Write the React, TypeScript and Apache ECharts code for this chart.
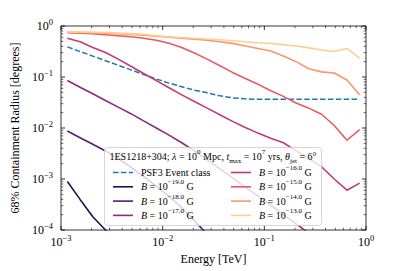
import React, { useEffect, useRef } from 'react';
import * as echarts from 'echarts';

const FONT = '"Liberation Serif", "Times New Roman", serif';

// Energy bin centres [TeV]
const energies = [
  0.001155, 0.00154, 0.002054, 0.002738, 0.003652, 0.00487, 0.006494, 0.00866,
  0.01155, 0.0154, 0.02054, 0.02738, 0.03652, 0.0487, 0.06494, 0.0866,
  0.1155, 0.154, 0.2054, 0.2738, 0.3652, 0.487, 0.6494, 0.866,
];

// 68% containment radius [deg]
const psf3 = [
  0.389, 0.316, 0.257, 0.209, 0.17, 0.138, 0.112, 0.0912,
  0.0759, 0.0646, 0.055, 0.049, 0.0427, 0.039, 0.0373, 0.0366,
  0.0365, 0.0365, 0.0365, 0.0365, 0.0365, 0.0365, 0.0365, 0.0365,
];
const b19 = [0.000891, 0.000398, 0.000182, 0.0001, 0.0000501];
const b18 = [
  0.00871, 0.00646, 0.00479, 0.00355, 0.00251, 0.0017, 0.00112, 0.000724,
  0.000457, 0.000275, 0.000151, 0.0000832, 0.0000447,
];
const b17 = [
  0.0851, 0.0631, 0.0468, 0.0347, 0.0257, 0.0191, 0.0138, 0.01,
  0.00724, 0.00513, 0.00355, 0.0024, 0.00158, 0.00105, 0.000692, 0.000468,
  0.000309, 0.0002, 0.000132, 0.0000871, 0.0000562,
];
const b16 = [
  0.575, 0.49, 0.38, 0.302, 0.224, 0.162, 0.117, 0.0851,
  0.0617, 0.0447, 0.0331, 0.0245, 0.0182, 0.0135, 0.0102, 0.00794,
  0.00631, 0.00513, 0.00355, 0.00251, 0.00174, 0.001, 0.000603, 0.000832,
];
const b15 = [
  0.741, 0.724, 0.708, 0.676, 0.646, 0.617, 0.575, 0.525,
  0.457, 0.38, 0.295, 0.224, 0.166, 0.123, 0.0933, 0.0724,
  0.0537, 0.0417, 0.0309, 0.0245, 0.0186, 0.0112, 0.00575, 0.00933,
];
const b14 = [
  0.759, 0.75, 0.741, 0.724, 0.708, 0.684, 0.661, 0.631,
  0.603, 0.575, 0.55, 0.525, 0.49, 0.457, 0.407, 0.363,
  0.324, 0.257, 0.2, 0.145, 0.126, 0.12, 0.0871, 0.0447,
];
const b13 = [
  0.767, 0.759, 0.75, 0.741, 0.724, 0.708, 0.684, 0.646,
  0.617, 0.596, 0.575, 0.556, 0.537, 0.513, 0.49, 0.468,
  0.457, 0.427, 0.407, 0.372, 0.339, 0.316, 0.363, 0.234,
];

const bLabels = ['−19.0', '−18.0', '−17.0', '−16.0', '−15.0', '−14.0', '−13.0'];
const bData = [b19, b18, b17, b16, b15, b14, b13];
const bColors = ['#221150', '#5a167e', '#8c2981', '#c03a76', '#ec5860', '#fd9668', '#fecf92'];
const psfLabel = 'PSF3 Event class';
const psfColor = '#1f77b4';

const xDecades = [-3, -2, -1, 0];
const yDecades = [-4, -3, -2, -1, 0];

const pairs = (arr: number[]) => arr.map((v, i) => [energies[i], v]);

const axisRich = {
  b: { fontFamily: FONT, fontSize: 12, color: '#000', lineHeight: 18 },
  s: { fontFamily: FONT, fontSize: 8.5, color: '#000', lineHeight: 9, verticalAlign: 'top' },
};
const expFmt = (v: number) => {
  const e = Math.round(Math.log10(v));
  return '{b|10}{s|' + (e < 0 ? '−' + -e : String(e)) + '}';
};

const legRich = {
  r: { fontFamily: FONT, fontSize: 10, color: '#000', lineHeight: 16 },
  i: { fontFamily: FONT, fontSize: 10, color: '#000', lineHeight: 16, fontStyle: 'italic' },
  sup: { fontFamily: FONT, fontSize: 7, color: '#000', lineHeight: 8, verticalAlign: 'top' },
  sub: { fontFamily: FONT, fontSize: 7, color: '#000', lineHeight: 11, verticalAlign: 'bottom' },
  subi: { fontFamily: FONT, fontSize: 7, color: '#000', lineHeight: 11, verticalAlign: 'bottom', fontStyle: 'italic' },
};

export default function App() {
  const ref = useRef<HTMLDivElement>(null);
  useEffect(() => {
    if (!ref.current) return;
    const chart = echarts.init(ref.current, undefined, { renderer: 'svg' });
    const series: any[] = [
      {
        type: 'line',
        name: psfLabel,
        data: pairs(psf3),
        showSymbol: false,
        smooth: false,
        lineStyle: { color: psfColor, width: 1.5, type: [5.5, 2.4] },
        z: 2,
      },
      ...bData.map((d, k) => ({
        type: 'line',
        name: 'B' + bLabels[k],
        data: pairs(d),
        showSymbol: false,
        clip: true,
        lineStyle: { color: bColors[k], width: 1.6 },
        z: 3,
      })),
    ];
    chart.setOption({
      animation: false,
      grid: {
        left: 61, right: 41, top: 26, bottom: 41,
        show: true, borderColor: '#000', borderWidth: 0.8, backgroundColor: 'transparent',
      },
      xAxis: {
        type: 'log', logBase: 10, min: 0.001, max: 1,
        axisLine: { show: false }, axisTick: { show: false }, splitLine: { show: false },
        axisLabel: { formatter: expFmt, rich: axisRich, margin: 3 },
        name: 'Energy [TeV]', nameLocation: 'middle', nameGap: 20,
        nameTextStyle: { fontFamily: FONT, fontSize: 12, color: '#000' },
      },
      yAxis: {
        type: 'log', logBase: 10, min: 0.0001, max: 1,
        axisLine: { show: false }, axisTick: { show: false }, splitLine: { show: false },
        axisLabel: { formatter: expFmt, rich: axisRich, margin: 8 },
        name: '68% Containment Radius [degrees]', nameLocation: 'middle', nameGap: 34,
        nameTextStyle: { fontFamily: FONT, fontSize: 12, color: '#000' },
      },
      series,
    });

    // ticks (inward, all four sides, major + minor)
    const els: any[] = [];
    const xp = (v: number) => chart.convertToPixel({ xAxisIndex: 0 }, v) as number;
    const yp = (v: number) => chart.convertToPixel({ yAxisIndex: 0 }, v) as number;
    const L = xp(1e-3), R = xp(1), T = yp(1), B = yp(1e-4);
    const tick = (x1: number, y1: number, x2: number, y2: number, w: number) =>
      els.push({ type: 'line', shape: { x1, y1, x2, y2 }, style: { stroke: '#000', lineWidth: w }, z: 50, silent: true });
    xDecades.forEach((d) => {
      const x = xp(Math.pow(10, d));
      tick(x, B, x, B - 4, 0.8);
      tick(x, T, x, T + 4, 0.8);
      if (d < 0) {
        for (let m = 2; m <= 9; m++) {
          const xm = xp(m * Math.pow(10, d));
          tick(xm, B, xm, B - 2.3, 0.6);
          tick(xm, T, xm, T + 2.3, 0.6);
        }
      }
    });
    yDecades.forEach((d) => {
      const y = yp(Math.pow(10, d));
      tick(L, y, L + 4, y, 0.8);
      tick(R, y, R - 4, y, 0.8);
      if (d < 0) {
        for (let m = 2; m <= 9; m++) {
          const ym = yp(m * Math.pow(10, d));
          tick(L, ym, L + 2.3, ym, 0.6);
          tick(R, ym, R - 2.3, ym, 0.6);
        }
      }
    });

    // legend
    const lx = 104.5, ly = 147.5, lw = 217, lh = 78;
    els.push({
      type: 'rect', shape: { x: lx, y: ly, width: lw, height: lh, r: 3 },
      style: { fill: 'rgba(255,255,255,0.8)', stroke: '#cccccc', lineWidth: 0.8 }, z: 100, silent: true,
    });
    els.push({
      type: 'text', x: 109.5, y: 156, z: 101, silent: true,
      style: {
        text: '{r|1ES1218+304; }{i|λ}{r| = 10}{sup|0}{r| Mpc, }{i|t}{sub|max}{r| = 10}{sup|7}{r| yrs, }{i|θ}{sub|jet}{r| = 6°}',
        rich: legRich, fontFamily: FONT, fontSize: 10, align: 'left', verticalAlign: 'middle',
      },
    });
    const rows = [172.5, 186.8, 201.1, 215.4];
    const entries: { label: string; color: string; dash: boolean }[] = [
      { label: '{r|' + psfLabel + '}', color: psfColor, dash: true },
      ...bLabels.map((b, k) => ({ label: '{i|B}{r| = 10}{sup|' + b + '}{r| G}', color: bColors[k], dash: false })),
    ];
    entries.forEach((e, k) => {
      const col = k < 4 ? 0 : 1;
      const row = k % 4;
      const hx = col === 0 ? 113 : 231;
      const tx = col === 0 ? 141 : 259;
      const y = rows[row];
      els.push({
        type: 'line', shape: { x1: hx, y1: y, x2: hx + 20, y2: y }, z: 101, silent: true,
        style: { stroke: e.color, lineWidth: e.dash ? 1.5 : 1.6, lineDash: e.dash ? [5.5, 2.4] : null },
      });
      els.push({
        type: 'text', x: tx, y, z: 101, silent: true,
        style: { text: e.label, rich: legRich, fontFamily: FONT, fontSize: 10, align: 'left', verticalAlign: 'middle' },
      });
    });
    chart.setOption({ graphic: { elements: els } });
    return () => chart.dispose();
  }, []);
  return <div ref={ref} style={{ position: 'absolute', left: 0, top: 0, width: 407, height: 271 }} />;
}
